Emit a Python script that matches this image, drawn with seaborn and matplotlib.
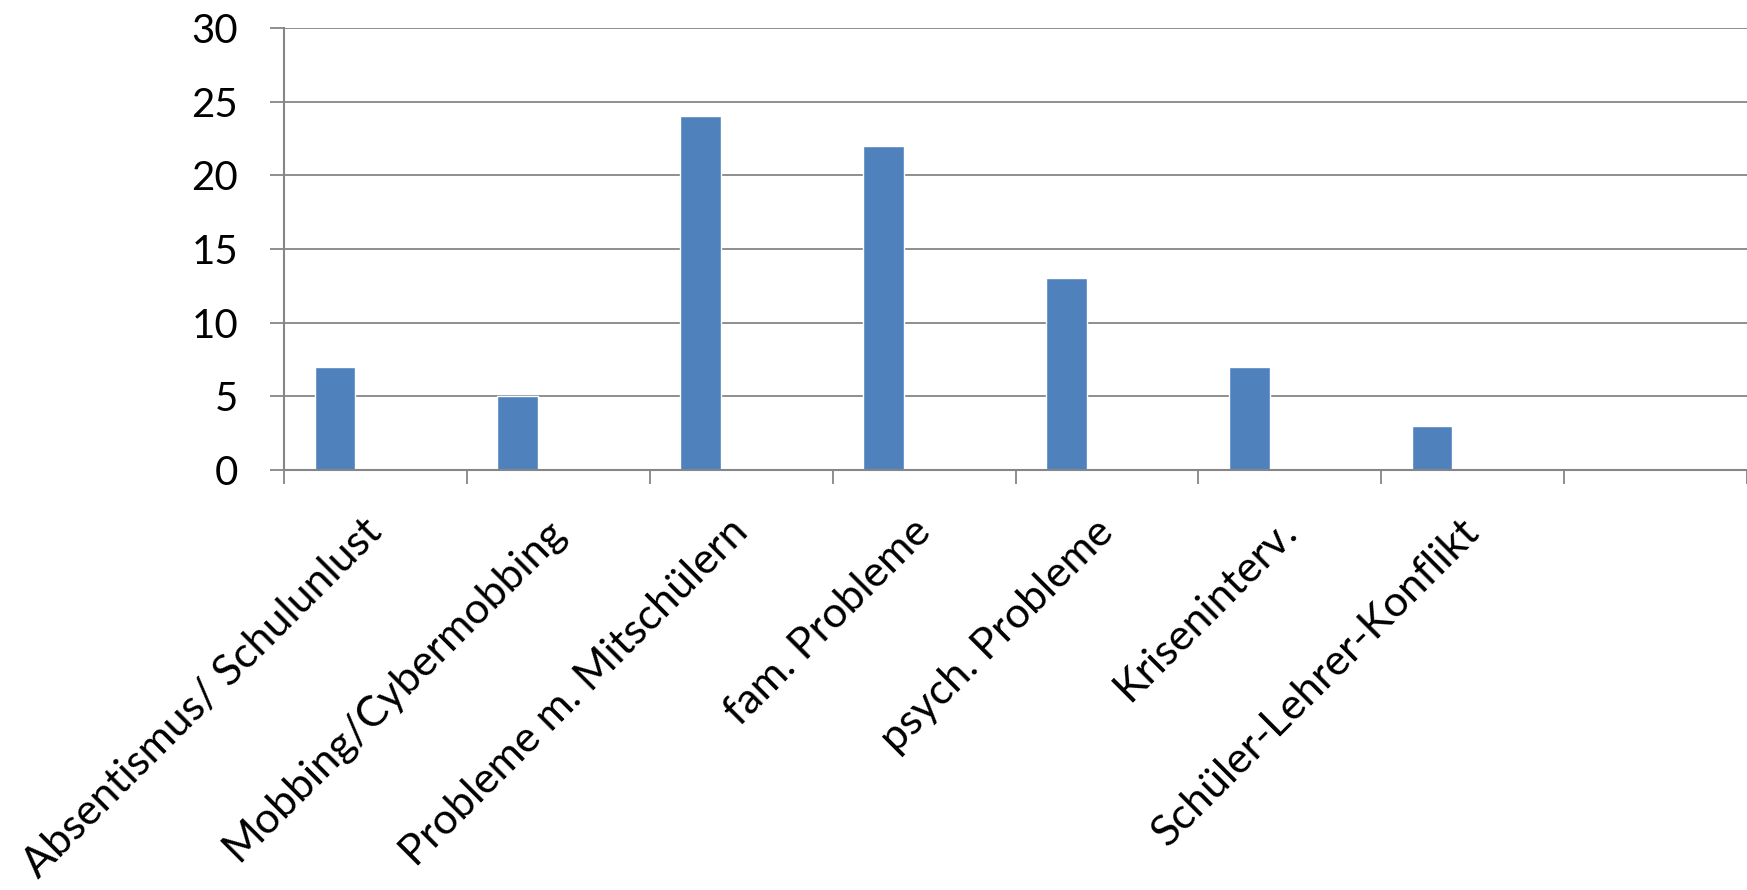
import matplotlib
matplotlib.use("Agg")
import matplotlib.pyplot as plt
from matplotlib.ticker import FixedLocator
import pandas as pd
import seaborn as sns

# --- Daten ---
kategorien = ["Absentismus/ Schulunlust", "Mobbing/Cybermobbing",
              "Probleme m. Mitschülern", "fam. Probleme", "psych. Probleme",
              "Kriseninterv.", "Schüler-Lehrer-Konflikt", ""]
werte = [7, 5, 24, 22, 13, 7, 3]
reihen = ["Reihe 1", "Reihe 2", "Reihe 3"]   # nur Reihe 1 hat Werte
y_ticks = [0, 5, 10, 15, 20, 25, 30]

BLAU = "#4F81BD"
GRAU = "#868686"

df = pd.DataFrame({"Kategorie": kategorien[:len(werte)],
                   "Anzahl": werte,
                   "Reihe": reihen[0]})

sns.set_style("white")
plt.rcParams["font.family"] = ["Lato", "DejaVu Sans"]

fig = plt.figure(figsize=(17.47, 8.90), dpi=100)
ax = fig.add_axes([0.1626, 0.4719, 1.0 - 0.1626, 0.9685 - 0.4719])

sns.barplot(data=df, x="Kategorie", y="Anzahl", hue="Reihe",
            order=kategorien, hue_order=reihen, palette=[BLAU] * 3,
            width=2 / 3, dodge=True, saturation=1, errorbar=None,
            legend=False, ax=ax)

ax.set_xlim(-0.5, len(kategorien) - 0.5)
ax.set_ylim(0, 30)
ax.set_yticks(y_ticks)
ax.set_xlabel("")
ax.set_ylabel("")

# Gitter und Achsen
ax.set_axisbelow(True)
ax.yaxis.grid(True, color=GRAU, linewidth=1.3)
for s in ["top", "right"]:
    ax.spines[s].set_visible(False)
for s in ["left", "bottom"]:
    ax.spines[s].set_color(GRAU)
    ax.spines[s].set_linewidth(1.5)

# Striche an den Kategoriegrenzen, Beschriftung in der Mitte
ax.xaxis.set_minor_locator(FixedLocator([i - 0.5 for i in range(len(kategorien) + 1)]))
ax.tick_params(axis="x", which="minor", length=10, width=1.3, color=GRAU, bottom=True)
ax.tick_params(axis="x", which="major", length=0, pad=40, labelsize=31,
               labelcolor="black")
ax.tick_params(axis="y", which="major", length=10, width=1.3, color=GRAU,
               pad=23, labelsize=29, labelcolor="black", left=True)
ax.set_xticks(range(len(kategorien)))
ax.set_xticklabels(kategorien, rotation=45, ha="right", va="center",
                   rotation_mode="anchor")

plt.savefig("out.png", dpi=100, facecolor="white")
